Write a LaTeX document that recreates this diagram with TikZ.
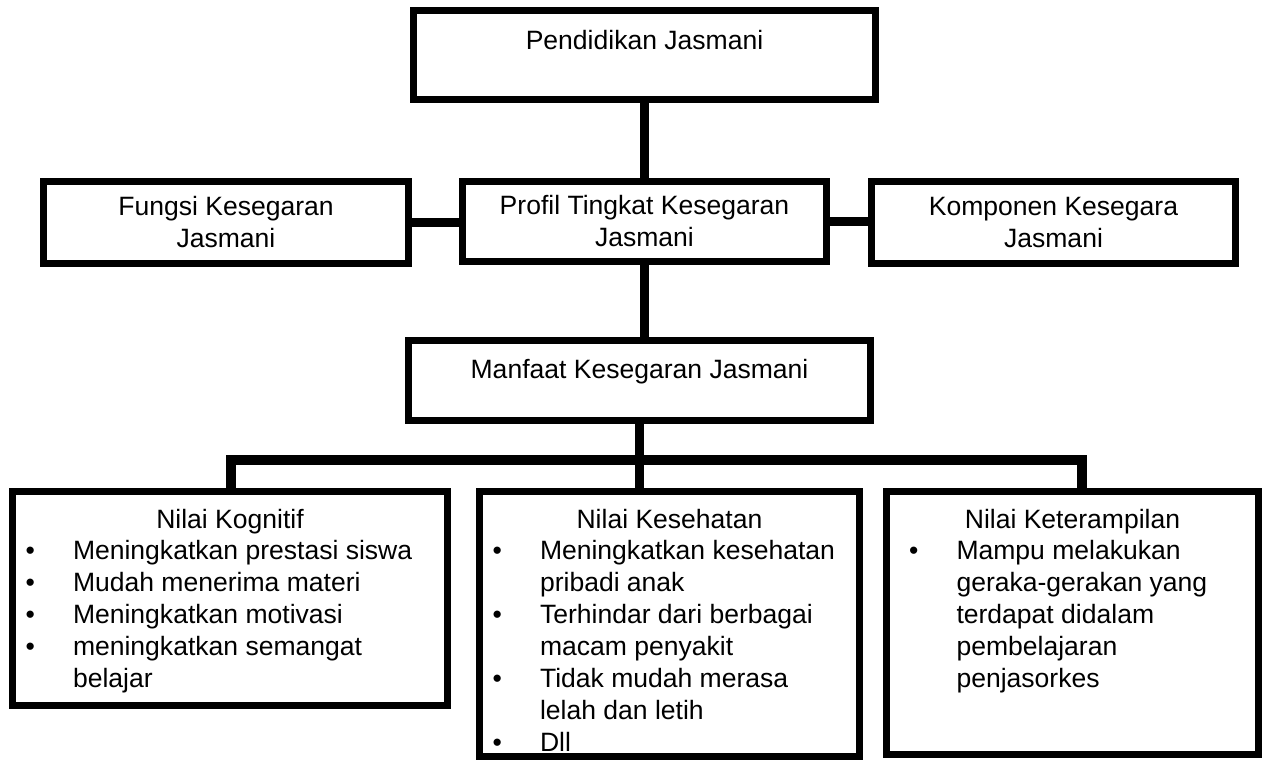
\documentclass[tikz,border=0pt]{standalone}
\usepackage{fontspec}
\setmainfont{Liberation Sans}

\newcommand{\butir}[1]{\par\noindent\hangindent=1.21cm\hangafter=1%
  \hspace*{0.26cm}\makebox[0.95cm][l]{\textbullet}#1\par}

\begin{document}
\begin{tikzpicture}[x=0.02cm, y=-0.02cm,
    kotak/.style={draw, line width=4pt, inner sep=0pt,
        font=\fontsize{15.1}{18.2}\selectfont},
    garis/.style={line width=5.4pt}]

    \useasboundingbox (0,0) rectangle (1264,760);

    % Upper boxes
    \node[kotak, minimum width=9.24cm, minimum height=1.78cm,
        text height=0.4cm, text depth=0.6cm]
        (pendidikan) at (644.5,55) {Pendidikan Jasmani};

    \node[kotak, align=center, minimum width=7.3cm, minimum height=1.64cm]
        (fungsi) at (226,222.5) {Fungsi Kesegaran\\Jasmani};

    \node[kotak, align=center, minimum width=7.28cm, minimum height=1.6cm]
        (profil) at (644.5,221.5) {Profil Tingkat Kesegaran\\Jasmani};

    \node[kotak, align=center, minimum width=7.28cm, minimum height=1.64cm]
        (komponen) at (1053.5,222.5) {Komponen Kesegara\\Jasmani};

    \node[kotak, minimum width=9.24cm, minimum height=1.6cm,
        text height=0.4cm, text depth=0.5cm]
        (manfaat) at (639.5,380.5) {Manfaat Kesegaran Jasmani};

    % Lower boxes
    \node[kotak] (kognitif) at (230,598.5) {%
        \begin{minipage}[t][4.28cm][t]{8.7cm}
            {\centering\rule{0pt}{0.73cm}Nilai Kognitif\par}
            \raggedright
            \butir{Meningkatkan prestasi siswa}
            \butir{Mudah menerima materi}
            \butir{Meningkatkan motivasi}
            \butir{meningkatkan semangat\newline belajar}
        \end{minipage}};

    \node[kotak] (kesehatan) at (669.5,624) {%
        \begin{minipage}[t][5.3cm][t]{7.6cm}
            {\centering\rule{0pt}{0.73cm}Nilai Kesehatan\par}
            \raggedright
            \butir{Meningkatkan kesehatan\newline pribadi anak}
            \butir{Terhindar dari berbagai\newline macam penyakit}
            \butir{Tidak mudah merasa\newline lelah dan letih}
            \butir{Dll}
        \end{minipage}};

    \node[kotak] (keterampilan) at (1072.5,623) {%
        \begin{minipage}[t][5.26cm][t]{7.44cm}
            {\centering\rule{0pt}{0.73cm}Nilai Keterampilan\par}
            \raggedright\leftskip=0.19cm
            \butir{Mampu melakukan\newline geraka-gerakan yang\newline
                terdapat didalam\newline pembelajaran\newline penjasorkes}
        \end{minipage}};

    % Connectors
    \coordinate (barkiri) at (231,460);
    \coordinate (barkanan) at (1082,460);

    \draw[garis] (pendidikan.south) -- (profil.north);
    \draw[garis] (fungsi.east) -- (fungsi.east -| profil.west);
    \draw[garis] (profil.east) -- (profil.east -| komponen.west);
    \draw[garis] (profil.south) -- (profil.south |- manfaat.north);
    \draw[garis] (manfaat.south) -- (manfaat.south |- barkiri);

    % Branch to the lower boxes
    \draw[garis] (barkiri |- kognitif.north) -- (barkiri)
        -- (barkanan) -- (barkanan |- keterampilan.north);
    \draw[garis] (manfaat.south |- barkiri) -- (manfaat.south |- kesehatan.north);

\end{tikzpicture}
\end{document}
